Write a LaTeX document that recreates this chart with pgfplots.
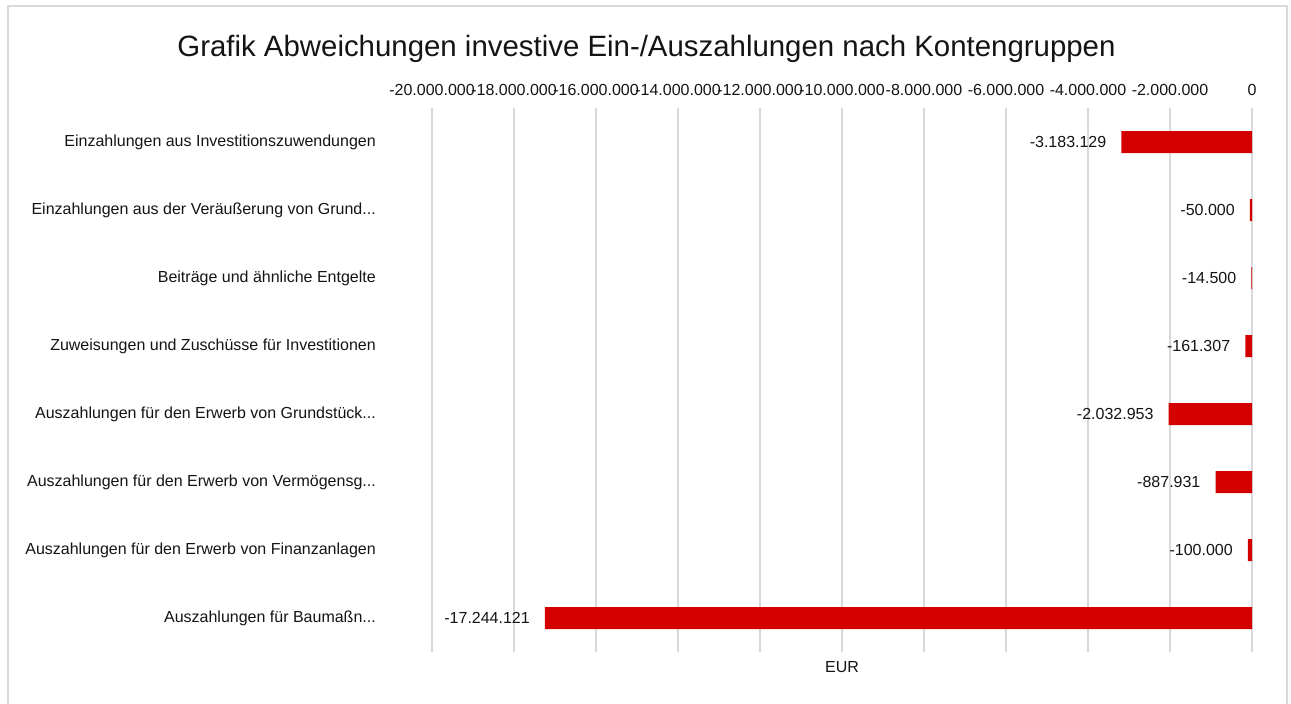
\documentclass[border=0pt]{standalone}
\usepackage{pgfplots}
\pgfplotsset{compat=1.18}
\usepackage{fontspec}
\setmainfont{Liberation Sans}
\definecolor{barred}{RGB}{212,0,0}
\definecolor{gridgray}{RGB}{217,217,217}
\definecolor{txt}{RGB}{20,20,20}
\newcommand{\ddd}{...}
\begin{document}
\begin{tikzpicture}[x=1pt,y=1pt]
\useasboundingbox (0,0) rectangle (1291,704);
\draw[gridgray, line width=1.5pt] (8,-2) -- (8,698) -- (1287,698) -- (1287,-2);
\node[font=\fontsize{29.4}{32}\selectfont, text=txt] at (646.5,655) {Grafik Abweichungen investive Ein-/Auszahlungen nach Kontengruppen};
\begin{axis}[
  at={(432pt,52pt)}, anchor=south west,
  scale only axis, width=820pt, height=544pt,
  xbar, bar width=22pt,
  xmin=-20000000, xmax=0,
  ymin=-0.5, ymax=7.5, y dir=reverse,
  axis line style={draw=none},
  major tick length=0pt,
  xtick={-20000000,-18000000,-16000000,-14000000,-12000000,-10000000,-8000000,-6000000,-4000000,-2000000,0},
  xticklabels={-20.000.000,-18.000.000,-16.000.000,-14.000.000,-12.000.000,-10.000.000,-8.000.000,-6.000.000,-4.000.000,-2.000.000,0},
  xticklabel pos=upper,
  xticklabel style={font=\fontsize{16}{18}\selectfont, text=txt, inner sep=0pt, yshift=12pt},
  scaled x ticks=false,
  xmajorgrids, grid style={gridgray, line width=1.5pt},
  ytick={0,1,2,3,4,5,6,7},
  yticklabels={{Einzahlungen aus Investitionszuwendungen},{Einzahlungen aus der Veräußerung von Grund\ddd},{Beiträge und ähnliche Entgelte},{Zuweisungen und Zuschüsse für Investitionen},{Auszahlungen für den Erwerb von Grundstück\ddd},{Auszahlungen für den Erwerb von Vermögensg\ddd},{Auszahlungen für den Erwerb von Finanzanlagen},{Auszahlungen für Baumaßn\ddd}},
  yticklabel style={font=\fontsize{16}{18}\selectfont, text=txt, inner sep=0pt, xshift=-56pt, anchor=east},
  xlabel={EUR},
  xlabel style={font=\fontsize{16}{18}\selectfont, text=txt, at={(axis description cs:0.5,0)}, anchor=center, yshift=-15pt},
  nodes near coords,
  point meta=explicit symbolic,
  every node near coord/.append style={font=\fontsize{16}{18}\selectfont, text=txt, anchor=east, inner sep=0pt, xshift=-15pt},
]
\addplot[fill=barred, draw=none] table[x=x, y=y, meta=lab] {
x y lab
-3183129 0 -3.183.129
-50000 1 -50.000
-14500 2 -14.500
-161307 3 -161.307
-2032953 4 -2.032.953
-887931 5 -887.931
-100000 6 -100.000
-17244121 7 -17.244.121
};
\end{axis}
\end{tikzpicture}
\end{document}
